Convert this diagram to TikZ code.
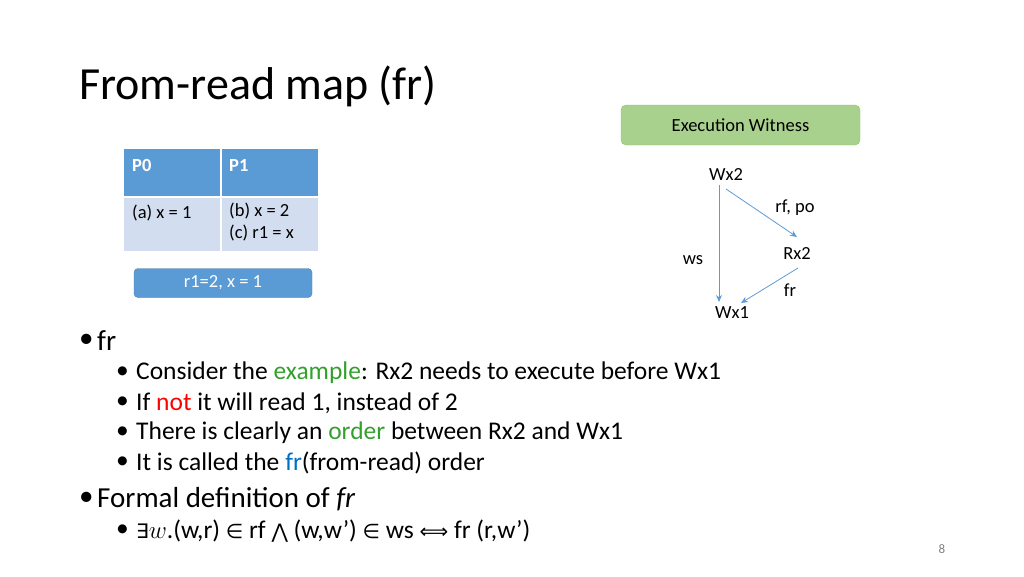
\documentclass[tikz,border=0pt]{standalone}
\usepackage{fontspec}
\setmainfont{Carlito}
\newfontfamily\dejavu{DejaVu Sans}
\usetikzlibrary{arrows.meta}
\definecolor{accent}{HTML}{5B9BD5}
\definecolor{lightcell}{HTML}{D2DEEF}
\definecolor{greenfill}{HTML}{A9D18E}
\definecolor{greenline}{HTML}{8CBF6E}
\definecolor{exgreen}{HTML}{33A02C}
\definecolor{notred}{HTML}{FF0000}
\definecolor{frblue}{HTML}{0070C0}
\begin{document}
\begin{tikzpicture}[x=1pt,y=-1pt,
  lbl/.style={inner sep=0pt,anchor=west,font=\fontsize{25.5}{30}\selectfont},
  lbl2/.style={inner sep=0pt,anchor=west,font=\fontsize{29}{34}\selectfont},
  ev/.style={inner sep=1pt,font=\fontsize{18.5}{22}\selectfont},
  rel/.style={-{Stealth[length=7pt,width=6pt]},draw=accent,line width=0.8pt}]
\useasboundingbox (0,0) rectangle (1024,576);
\node[inner sep=0pt,anchor=west,font=\fontsize{46}{52}\selectfont] (title) at (79,86) {From-read map (fr)};
% table
\fill[accent] (124,149) rectangle (318,196);
\fill[lightcell] (124,197) rectangle (318,251);
\draw[white,line width=2pt] (221,149) -- (221,251);
\draw[white,line width=2pt] (124,196.5) -- (318,196.5);
\node[inner sep=0pt,anchor=west,text=white,font=\fontsize{18.5}{22}\selectfont\bfseries] (p0) at (132,165) {P0};
\node[inner sep=0pt,anchor=west,text=white,font=\fontsize{18.5}{22}\selectfont\bfseries] (p1) at (229,165) {P1};
\node[inner sep=0pt,anchor=west,font=\fontsize{18.5}{22}\selectfont] (a) at (132,213) {(a) x = 1};
\node[inner sep=0pt,anchor=north west,align=left,font=\fontsize{18.5}{22}\selectfont] (bc) at (229,203) {(b) x = 2\\(c) r1 = x};
\node[draw=accent!80!black,fill=accent,rounded corners=4pt,minimum width=178pt,minimum height=29pt,text=white,font=\fontsize{18.5}{22}\selectfont] (res) at (223,283) {r1=2, x = 1};
% execution witness
\node[draw=greenline,fill=greenfill,rounded corners=5pt,minimum width=239pt,minimum height=40pt,font=\fontsize{18.5}{22}\selectfont] (ew) at (740.5,125) {Execution Witness};
\node[ev] (wx2) at (726,174) {Wx2};
\node[ev] (rx2) at (797,253) {Rx2};
\node[ev] (wx1) at (732,313) {Wx1};
\coordinate (wtop) at (719,185);
\coordinate (wbot) at (719,302);
\draw[rel] (wtop) -- (wbot);
\coordinate (s1) at (726,189);
\coordinate (e1) at (797,237);
\draw[rel] (s1) -- (e1);
\coordinate (s2) at (798,268);
\coordinate (e2) at (741,303);
\draw[rel] (s2) -- (e2);
\node[ev] (ws) at (693,260) {ws};
\node[ev] (rfpo) at (795,208) {rf, po};
\node[ev] (fr) at (790,290) {fr};
% bullets
\node[lbl2] (d1) at (79,341) {•};
\node[lbl2] (b1) at (97,341) {fr};
\node[lbl] (d2) at (116,373) {•};
\node[lbl] (s1t) at (136,373) {Consider the \textcolor{exgreen}{example}: Rx2 needs to execute before Wx1};
\node[lbl] (d3) at (116,403) {•};
\node[lbl] (s2t) at (136,403) {If \textcolor{notred}{not} it will read 1, instead of 2};
\node[lbl] (d4) at (116,433) {•};
\node[lbl] (s3t) at (136,433) {There is clearly an \textcolor{exgreen}{order} between Rx2 and Wx1};
\node[lbl] (d5) at (116,463) {•};
\node[lbl] (s4t) at (136,463) {It is called the \textcolor{frblue}{fr}(from-read) order};
\node[lbl2] (d6) at (79,499) {•};
\node[lbl2] (b2) at (97,499) {Formal definition of \textit{fr}};
\node[lbl] (d7) at (116,531) {•};
\node[lbl] (s5t) at (136,531) {{\dejavu\fontsize{20}{24}\selectfont∃}$w$.(w,r) {\dejavu\fontsize{20}{24}\selectfont∈} rf {\dejavu\fontsize{20}{24}\selectfont⋀} (w,w’) {\dejavu\fontsize{20}{24}\selectfont∈} ws {\dejavu\fontsize{20}{24}\selectfont⟺} fr (r,w’)};
\node[inner sep=0pt,text=gray,font=\fontsize{13}{15}\selectfont] (pg) at (942,549) {8};
\end{tikzpicture}
\end{document}
